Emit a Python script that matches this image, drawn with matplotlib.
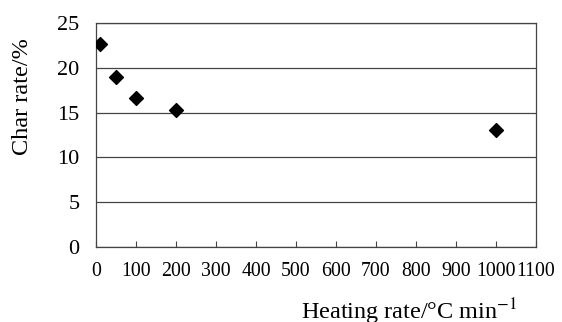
import matplotlib.pyplot as plt

heating_rate = [10, 50, 100, 200, 1000]
char_rate = [22.7, 19.0, 16.6, 15.3, 13.1]

x_ticks = list(range(0, 1101, 100))
y_ticks = [0, 5, 10, 15, 20, 25]


def main():
    plt.rcParams['font.family'] = ['Liberation Serif', 'DejaVu Serif']
    plt.rcParams['mathtext.fontset'] = 'stix'

    fig = plt.figure(figsize=(5.62, 3.22), dpi=100)
    ax = fig.add_axes([0.1708, 0.2342, 0.7829, 0.6934])

    ax.scatter(heating_rate, char_rate, marker='D', s=50, color='black', zorder=3)

    ax.set_xlim(0, 1100)
    ax.set_ylim(0, 25)
    ax.set_xticks(x_ticks)
    ax.set_yticks(y_ticks)
    ax.yaxis.grid(True, color='#444444', linewidth=0.9)
    ax.set_axisbelow(True)

    for side in ax.spines.values():
        side.set_color('#444444')
        side.set_linewidth(0.9)

    ax.tick_params(axis='x', direction='in', length=4, color='#444444',
                   labelsize=14.3, pad=11)
    ax.tick_params(axis='y', length=0, labelsize=16, pad=12)

    # label sits on the bottom edge, like in the original
    fig.text(0.728, 0.008, 'Heating rate/\u00b0C min$^{-1}$', fontsize=17.5,
             ha='center', va='baseline')
    fig.text(0.040, 0.70, 'Char rate/%', fontsize=17.5, rotation=90,
             ha='center', va='center')

    fig.savefig('out.png', dpi=100)


if __name__ == '__main__':
    main()
